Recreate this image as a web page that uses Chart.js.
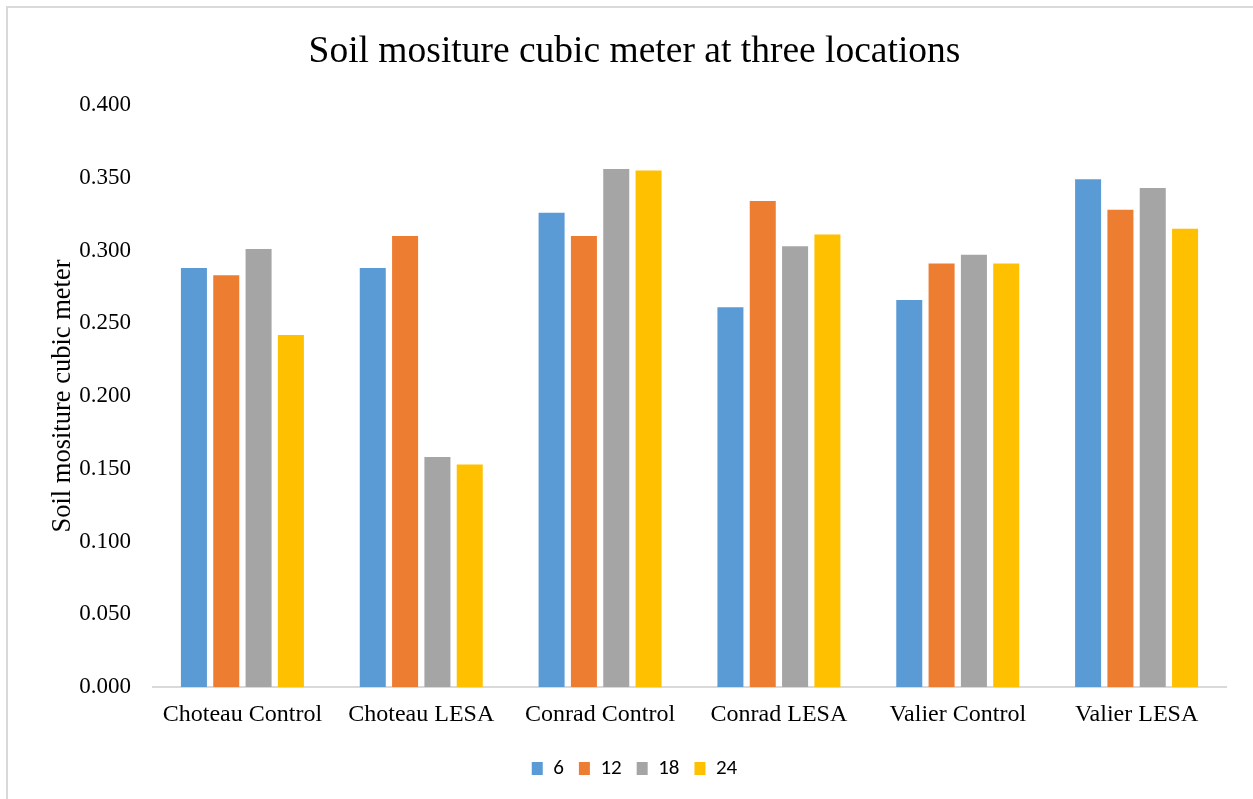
<!DOCTYPE html>
<html lang="en">
<head>
  <meta charset="UTF-8">
  <title>Soil mositure cubic meter at three locations</title>
  <script src="https://cdn.jsdelivr.net/npm/chart.js"></script>
  <style>
    body { margin: 0; background: #fff; }
    #wrap { position: relative; width: 1253px; height: 799px; overflow: hidden; }
    #frame { position: absolute; left: 6px; top: 6px; width: 1300px; height: 900px;
             border-left: 2px solid #d9d9d9; border-top: 2px solid #d9d9d9; }
    canvas { position: absolute; left: 0; top: 0; }
  </style>
</head>
<body>
<div id="wrap">
  <div id="frame"></div>
  <canvas id="soilChart" width="1253" height="799"></canvas>
</div>

<script>
  // categories and series
  const sites = ['Choteau Control', 'Choteau LESA', 'Conrad Control', 'Conrad LESA', 'Valier Control', 'Valier LESA'];
  const depth6  = [0.288, 0.288, 0.326, 0.261, 0.266, 0.349];
  const depth12 = [0.283, 0.310, 0.310, 0.334, 0.291, 0.328];
  const depth18 = [0.301, 0.158, 0.356, 0.303, 0.297, 0.343];
  const depth24 = [0.242, 0.153, 0.355, 0.311, 0.291, 0.315];
  const seriesNames = ['6', '12', '18', '24'];
  const seriesColors = ['#5B9BD5', '#ED7D31', '#A5A5A5', '#FFC000'];

  const serif = '"Liberation Serif", "Times New Roman", serif';

  const ctx = document.getElementById('soilChart').getContext('2d');
  new Chart(ctx, {
    type: 'bar',
    data: {
      labels: sites,
      datasets: [depth6, depth12, depth18, depth24].map((vals, i) => ({
        label: seriesNames[i],
        data: vals,
        backgroundColor: seriesColors[i],
        borderWidth: 0,
        categoryPercentage: 0.723,
        barPercentage: 0.805
      }))
    },
    options: {
      responsive: false,
      animation: false,
      layout: { padding: { left: 43, right: 27, top: 0, bottom: 10 } },
      plugins: {
        tooltip: { enabled: false },
        title: {
          display: true,
          text: 'Soil mositure cubic meter at three locations',
          color: '#000',
          font: { family: serif, size: 37.5, weight: 'normal' },
          padding: { top: 30, bottom: 30 }
        },
        legend: {
          position: 'bottom',
          labels: {
            color: '#000',
            font: { family: 'Carlito, Calibri, "Liberation Sans Narrow", "Liberation Sans", sans-serif', size: 21 },
            boxWidth: 11,
            boxHeight: 13,
            padding: 15
          }
        }
      },
      scales: {
        x: {
          grid: { display: false, drawTicks: false },
          border: { display: true, color: '#d9d9d9', width: 2 },
          ticks: { color: '#000', font: { family: serif, size: 24 }, padding: 13, maxRotation: 0 },
          afterFit: (scale) => { scale.height = 56; }
        },
        y: {
          min: 0,
          max: 0.4,
          grid: { display: false, drawTicks: false },
          border: { display: false },
          ticks: {
            stepSize: 0.05,
            color: '#000',
            font: { family: serif, size: 23 },
            padding: 22,
            callback: (v) => v.toFixed(3)
          },
          title: {
            display: true,
            text: 'Soil mositure cubic meter',
            color: '#000',
            font: { family: serif, size: 26.5 },
            padding: 4
          },
          afterFit: (scale) => { scale.width = 110; }
        }
      }
    }
  });
</script>
</body>
</html>
